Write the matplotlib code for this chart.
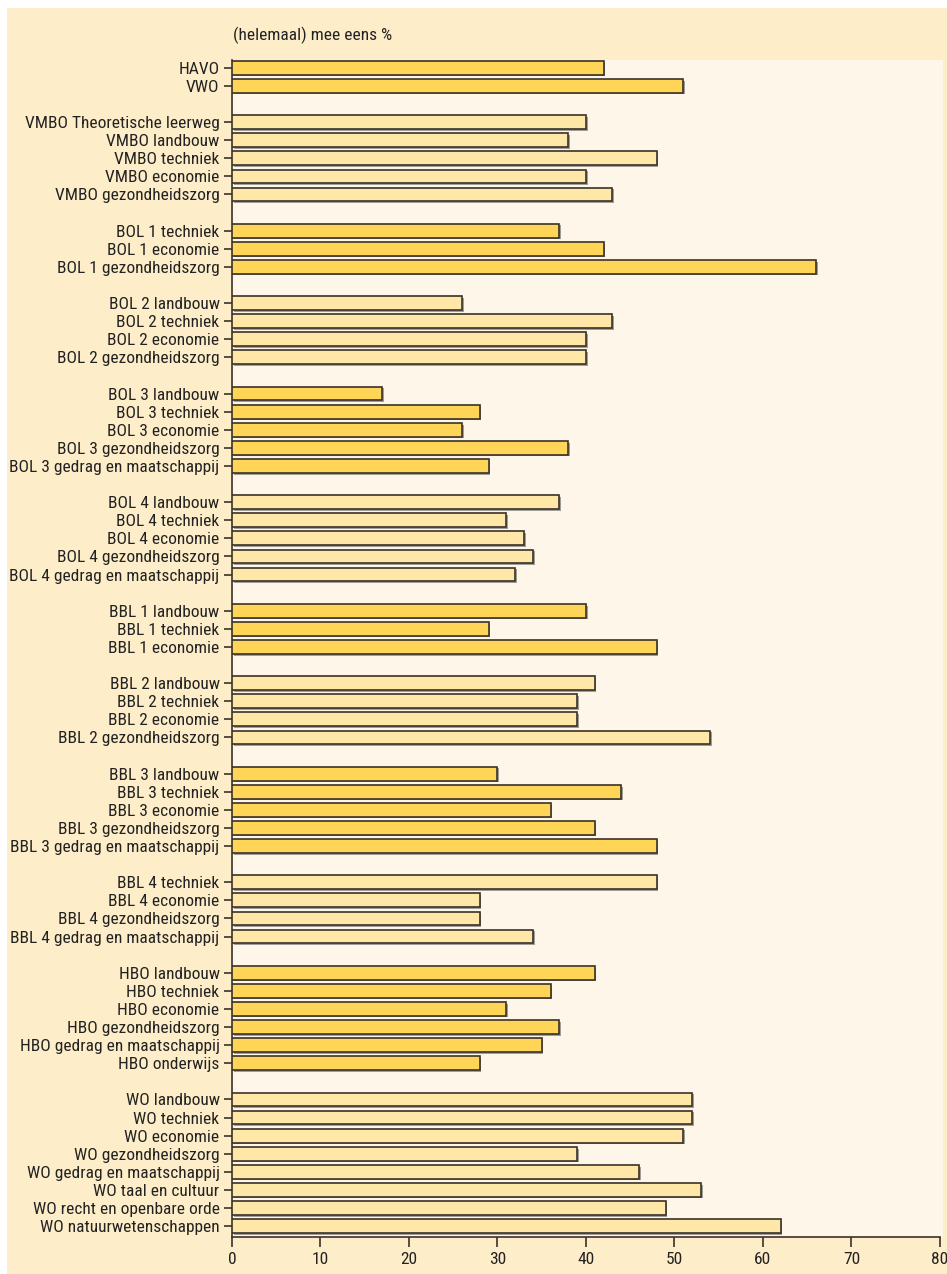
import numpy as np
import matplotlib
matplotlib.use("Agg")
import matplotlib.pyplot as plt
import matplotlib.patheffects as pe
from matplotlib import font_manager

# pick a narrow font if one is installed
names = {f.name for f in font_manager.fontManager.ttflist}
narrow = [n for n in ["Liberation Sans Narrow", "DejaVu Sans Condensed", "Roboto Condensed",
                      "Open Sans Condensed", "Noto Sans Condensed"] if n in names]
plt.rcParams['font.family'] = narrow[:1] + ['DejaVu Sans']

# groups of education levels, top to bottom
groups = [
    ["HAVO", "VWO"],
    ["VMBO Theoretische leerweg", "VMBO landbouw", "VMBO techniek", "VMBO economie", "VMBO gezondheidszorg"],
    ["BOL 1 techniek", "BOL 1 economie", "BOL 1 gezondheidszorg"],
    ["BOL 2 landbouw", "BOL 2 techniek", "BOL 2 economie", "BOL 2 gezondheidszorg"],
    ["BOL 3 landbouw", "BOL 3 techniek", "BOL 3 economie", "BOL 3 gezondheidszorg", "BOL 3 gedrag en maatschappij"],
    ["BOL 4 landbouw", "BOL 4 techniek", "BOL 4 economie", "BOL 4 gezondheidszorg", "BOL 4 gedrag en maatschappij"],
    ["BBL 1 landbouw", "BBL 1 techniek", "BBL 1 economie"],
    ["BBL 2 landbouw", "BBL 2 techniek", "BBL 2 economie", "BBL 2 gezondheidszorg"],
    ["BBL 3 landbouw", "BBL 3 techniek", "BBL 3 economie", "BBL 3 gezondheidszorg", "BBL 3 gedrag en maatschappij"],
    ["BBL 4 techniek", "BBL 4 economie", "BBL 4 gezondheidszorg", "BBL 4 gedrag en maatschappij"],
    ["HBO landbouw", "HBO techniek", "HBO economie", "HBO gezondheidszorg", "HBO gedrag en maatschappij", "HBO onderwijs"],
    ["WO landbouw", "WO techniek", "WO economie", "WO gezondheidszorg", "WO gedrag en maatschappij",
     "WO taal en cultuur", "WO recht en openbare orde", "WO natuurwetenschappen"],
]
group_values = [
    [42, 51],
    [40, 38, 48, 40, 43],
    [37, 42, 66],
    [26, 43, 40, 40],
    [17, 28, 26, 38, 29],
    [37, 31, 33, 34, 32],
    [40, 29, 48],
    [41, 39, 39, 54],
    [30, 44, 36, 41, 48],
    [48, 28, 28, 34],
    [41, 36, 31, 37, 35, 28],
    [52, 52, 51, 39, 46, 53, 49, 62],
]
xticks = [0, 10, 20, 30, 40, 50, 60, 70, 80]

dark = "#FFD558"
light = "#FFE7A8"
outer_bg = "#FEEDC9"
plot_bg = "#FEF6E8"

fig = plt.figure(figsize=(9.47, 12.74), dpi=100)
fig.patch.set_facecolor("white")
# outer panel, behind the axes
fig.patches.append(plt.Rectangle((7 / 947, 0), 940 / 947, 1 - 8 / 1274,
                                 transform=fig.transFigure, facecolor=outer_bg,
                                 edgecolor="none", zorder=-5))

ax = fig.add_axes([232 / 947, 1 - 1237 / 1274, 711 / 947, (1237 - 60) / 1274])
ax.set_facecolor(plot_bg)

ypos, labels, vals, cols = [], [], [], []
pos = 0
for i, (g, v) in enumerate(zip(groups, group_values)):
    for lab, val in zip(g, v):
        ypos.append(pos)
        labels.append(lab)
        vals.append(val)
        cols.append(dark if i % 2 == 0 else light)
        pos += 1
    pos += 1

bars = ax.barh(ypos, vals, height=0.76, color=cols, edgecolor="#3a3228", linewidth=1.2, zorder=3)
for b in bars:
    b.set_path_effects([pe.SimplePatchShadow(offset=(1.2, -1.2), shadow_rgbFace="#777777", alpha=0.7),
                        pe.Normal()])

lab_size = 12.5 if narrow else 10
ax.set_yticks(ypos)
ax.set_yticklabels(labels, fontsize=lab_size, color="#222222")
ax.set_ylim(ypos[-1] + 0.6, -0.43)
ax.set_xlim(0, 80.35)
ax.set_xticks(xticks)
ax.set_xticklabels([str(t) for t in xticks], fontsize=lab_size, color="#222222")
ax.tick_params(axis="y", length=6, width=1.2, color="#3a3228", pad=3)
ax.tick_params(axis="x", length=7, width=1.2, color="#3a3228", pad=4)

for s in ["top", "right"]:
    ax.spines[s].set_visible(False)
for s in ["left", "bottom"]:
    ax.spines[s].set_color("#3a3228")
    ax.spines[s].set_linewidth(1.2)
ax.spines["bottom"].set_bounds(0, 80)

fig.text(233 / 947, 1 - 35 / 1274, "(helemaal) mee eens %", fontsize=lab_size, color="#222222",
         ha="left", va="center")

fig.savefig("out.png", dpi=100, facecolor=fig.get_facecolor())
